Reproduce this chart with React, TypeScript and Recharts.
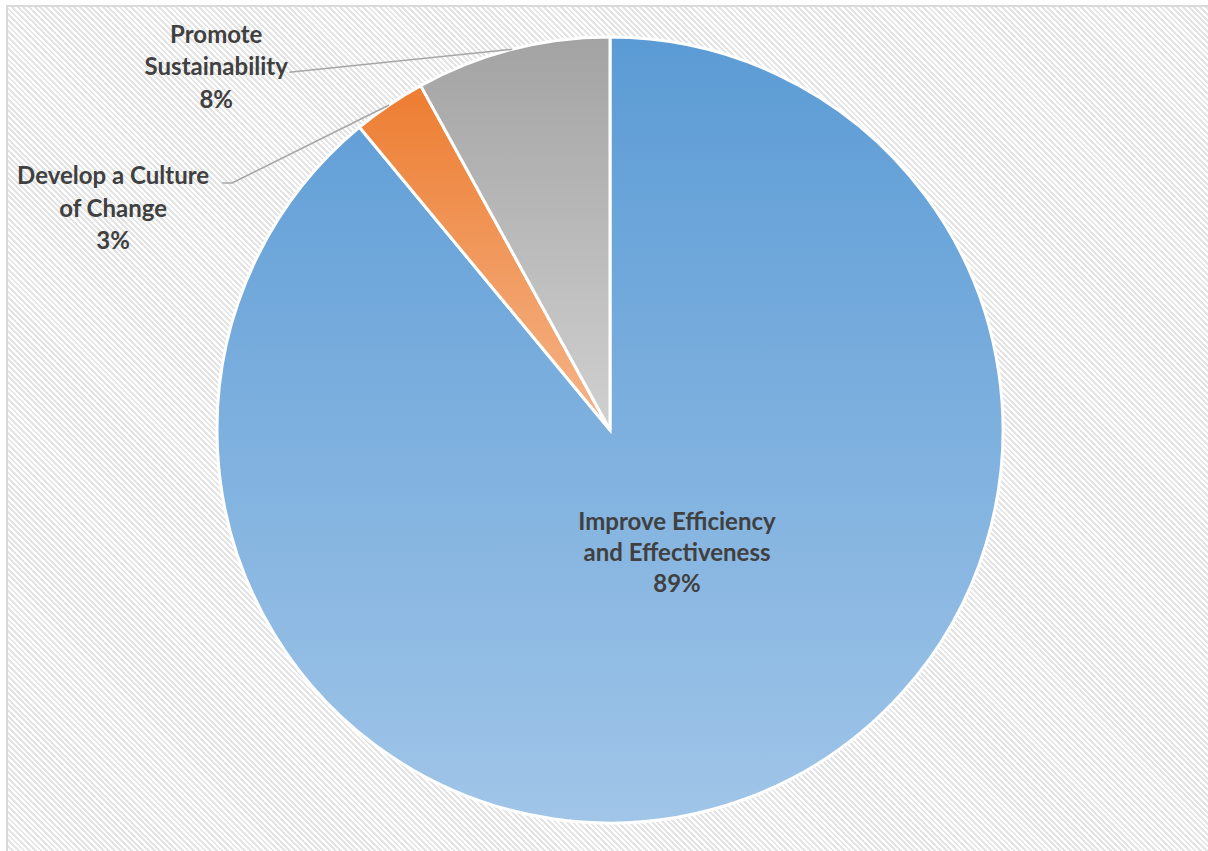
import { PieChart, Pie, Cell } from "recharts";

const categories = [
  "Improve Efficiency and Effectiveness",
  "Develop a Culture of Change",
  "Promote Sustainability",
];
const values = [89, 3, 8];
const labelLines = [
  ["Improve Efficiency", "and Effectiveness"],
  ["Develop a Culture", "of Change"],
  ["Promote", "Sustainability"],
];
const gradients = [
  { id: "gBlue", top: "#5B9BD5", bottom: "#A0C5E8" },
  { id: "gOrange", top: "#ED7D31", bottom: "#F5B58A" },
  { id: "gGrey", top: "#A3A3A3", bottom: "#D0D0D0" },
];

const data = categories.map((name, i) => ({ name, value: values[i] }));
const total = values.reduce((a, b) => a + b, 0);

const RAD = Math.PI / 180;
const textStyle = {
  fontFamily: "Lato, 'Open Sans', sans-serif",
  fontWeight: 700,
  fontSize: 24,
  fill: "#404040",
};

const renderLabel = (props: any) => {
  const { cx, cy, midAngle, outerRadius, index, value } = props;
  const pct = `${Math.round((value / total) * 100)}%`;
  const lines = [...labelLines[index], pct];

  if (index === 0) {
    const x = cx + 67;
    return (
      <g>
        {lines.map((t, i) => (
          <text key={i} x={x} y={cy + 90 + i * 31} textAnchor="middle" dominantBaseline="central" style={textStyle}>
            {t}
          </text>
        ))}
      </g>
    );
  }

  const ax = cx + outerRadius * Math.cos(-midAngle * RAD);
  const ay = cy + outerRadius * Math.sin(-midAngle * RAD);

  if (index === 1) {
    const tx = ax - 276;
    return (
      <g>
        <polyline
          points={`${ax},${ay} ${ax - 157},${ay + 78} ${ax - 167},${ay + 78}`}
          fill="none"
          stroke="#A6A6A6"
          strokeWidth={1.5}
        />
        {lines.map((t, i) => (
          <text key={i} x={tx} y={ay + 70 + i * 32.5} textAnchor="middle" dominantBaseline="central" style={textStyle}>
            {t}
          </text>
        ))}
      </g>
    );
  }

  // Promote Sustainability
  const tx = ax - 296;
  return (
    <g>
      <polyline points={`${ax},${ay} ${ax - 223},${ay + 23}`} fill="none" stroke="#A6A6A6" strokeWidth={1.5} />
      {lines.map((t, i) => (
        <text key={i} x={tx} y={ay - 16 + i * 32.5} textAnchor="middle" dominantBaseline="central" style={textStyle}>
          {t}
        </text>
      ))}
    </g>
  );
};

export default function App() {
  return (
    <div style={{ position: "absolute", left: 0, top: 0, width: 1208, height: 851, overflow: "hidden", background: "#fff" }}>
      <svg width={0} height={0} style={{ position: "absolute" }}>
        <defs>
          {gradients.map((g) => (
            <linearGradient key={g.id} id={g.id} x1="0" y1="0" x2="0" y2="1">
              <stop offset="0%" stopColor={g.top} />
              <stop offset="100%" stopColor={g.bottom} />
            </linearGradient>
          ))}
        </defs>
      </svg>
      <div
        style={{
          position: "absolute",
          left: 6,
          top: 5,
          width: 1220,
          height: 860,
          border: "2px solid #D9D9D9",
          background:
            "repeating-linear-gradient(45deg, #ffffff 0px, #ffffff 2px, #E4E4E4 2px, #E4E4E4 4px)",
        }}
      />
      <div style={{ position: "absolute", left: 0, top: 0 }}>
        <PieChart width={1208} height={851} margin={{ top: 0, right: 0, bottom: 0, left: 0 }}>
          <Pie
            data={data}
            dataKey="value"
            nameKey="name"
            cx={610}
            cy={430}
            outerRadius={393}
            startAngle={90}
            endAngle={-270}
            stroke="#ffffff"
            strokeWidth={3}
            label={renderLabel}
            labelLine={false}
            isAnimationActive={false}
          >
            {data.map((d, i) => (
              <Cell key={d.name} fill={`url(#${gradients[i].id})`} />
            ))}
          </Pie>
        </PieChart>
      </div>
    </div>
  );
}
